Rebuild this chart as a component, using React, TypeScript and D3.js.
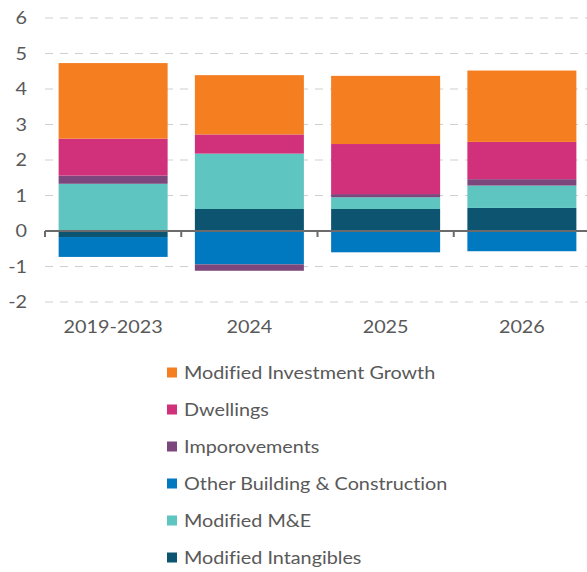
import React from "react";
import * as d3 from "d3";

const categories = ["2019-2023", "2024", "2025", "2026"];
const seriesNames = [
  "Modified Intangibles",
  "Modified M&E",
  "Other Building & Construction",
  "Imporovements",
  "Dwellings",
  "Modified Investment Growth",
];
const intangibles = [-0.17, 0.62, 0.62, 0.65];
const mAndE = [1.33, 1.56, 0.33, 0.63];
const otherBuilding = [-0.56, -0.94, -0.6, -0.57];
const improvements = [0.23, -0.18, 0.09, 0.18];
const dwellings = [1.04, 0.54, 1.41, 1.05];
const investmentGrowth = [2.13, 1.67, 1.92, 2.01];
const colors = ["#0c5470", "#5ec5c1", "#0079c1", "#7b477c", "#d1307a", "#f47e20"];
const yTicks = [-2, -1, 0, 1, 2, 3, 4, 5, 6];

const W = 587;
const H = 572;
const FONT = "Lato, 'Open Sans', sans-serif";
const TEXT = "#595959";
const SX = 1.1;

function T({ x, y, anchor, children }: { x: number; y: number; anchor?: string; children: any }) {
  return (
    <text
      transform={`translate(${x},${y}) scale(${SX},1)`}
      dy="0.36em"
      textAnchor={anchor || "start"}
      fontSize={18}
      fill={TEXT}
      style={{ fontVariantLigatures: "none" }}
    >
      {children}
    </text>
  );
}

export default function App() {
  const seriesValues = [intangibles, mAndE, otherBuilding, improvements, dwellings, investmentGrowth];
  const rows = categories.map((c, i) => {
    const r: any = { cat: c };
    seriesNames.forEach((s, k) => (r[s] = seriesValues[k][i]));
    return r;
  });
  const stacked = d3.stack<any>().keys(seriesNames).offset(d3.stackOffsetDiverging)(rows);

  const y = d3.scaleLinear().domain([-2, 6]).range([302, 18]);
  const x = d3.scaleBand().domain(categories).range([45, 590]).paddingInner(0.2).paddingOuter(0.1);

  const legendOrder = [...seriesNames].reverse();
  const legendColors = [...colors].reverse();

  return (
    <svg width={W} height={H} style={{ position: "absolute", left: 0, top: 0 }} fontFamily={FONT}>
      <rect width={W} height={H} fill="#fff" />
      {yTicks.filter((t) => t !== 0).map((t) => (
        <line key={"g" + t} x1={45} x2={W} y1={y(t)} y2={y(t)} stroke="#d0d0d0" strokeWidth={1.2} strokeDasharray="8,7" />
      ))}
      {yTicks.map((t) => (
        <T key={"t" + t} x={27} y={y(t)} anchor="end">
          {t}
        </T>
      ))}
      {stacked.map((s, k) => (
        <g key={s.key} fill={colors[k]}>
          {s.map((d, i) => (
            <rect
              key={i}
              x={x(categories[i])}
              width={x.bandwidth()}
              y={y(Math.max(d[0], d[1]))}
              height={Math.abs(y(d[0]) - y(d[1]))}
            />
          ))}
        </g>
      ))}
      <line x1={45} x2={W} y1={y(0)} y2={y(0)} stroke="#6b6b6b" strokeWidth={2} />
      {categories.map((c, i) => (
        <line key={"tk" + c} x1={x.range()[0] + i * x.step()} x2={x.range()[0] + i * x.step()} y1={y(0)} y2={y(0) + 6} stroke="#6b6b6b" strokeWidth={2} />
      ))}
      {categories.map((c) => (
        <T key={"c" + c} x={(x(c) as number) + x.bandwidth() / 2} y={327} anchor="middle">
          {c}
        </T>
      ))}
      {legendOrder.map((name, i) => {
        const cy = 372.5 + i * 37;
        return (
          <g key={name}>
            <rect x={167} y={cy - 5} width={10} height={10} fill={legendColors[i]} />
            <T x={184} y={cy}>
              {name}
            </T>
          </g>
        );
      })}
    </svg>
  );
}
